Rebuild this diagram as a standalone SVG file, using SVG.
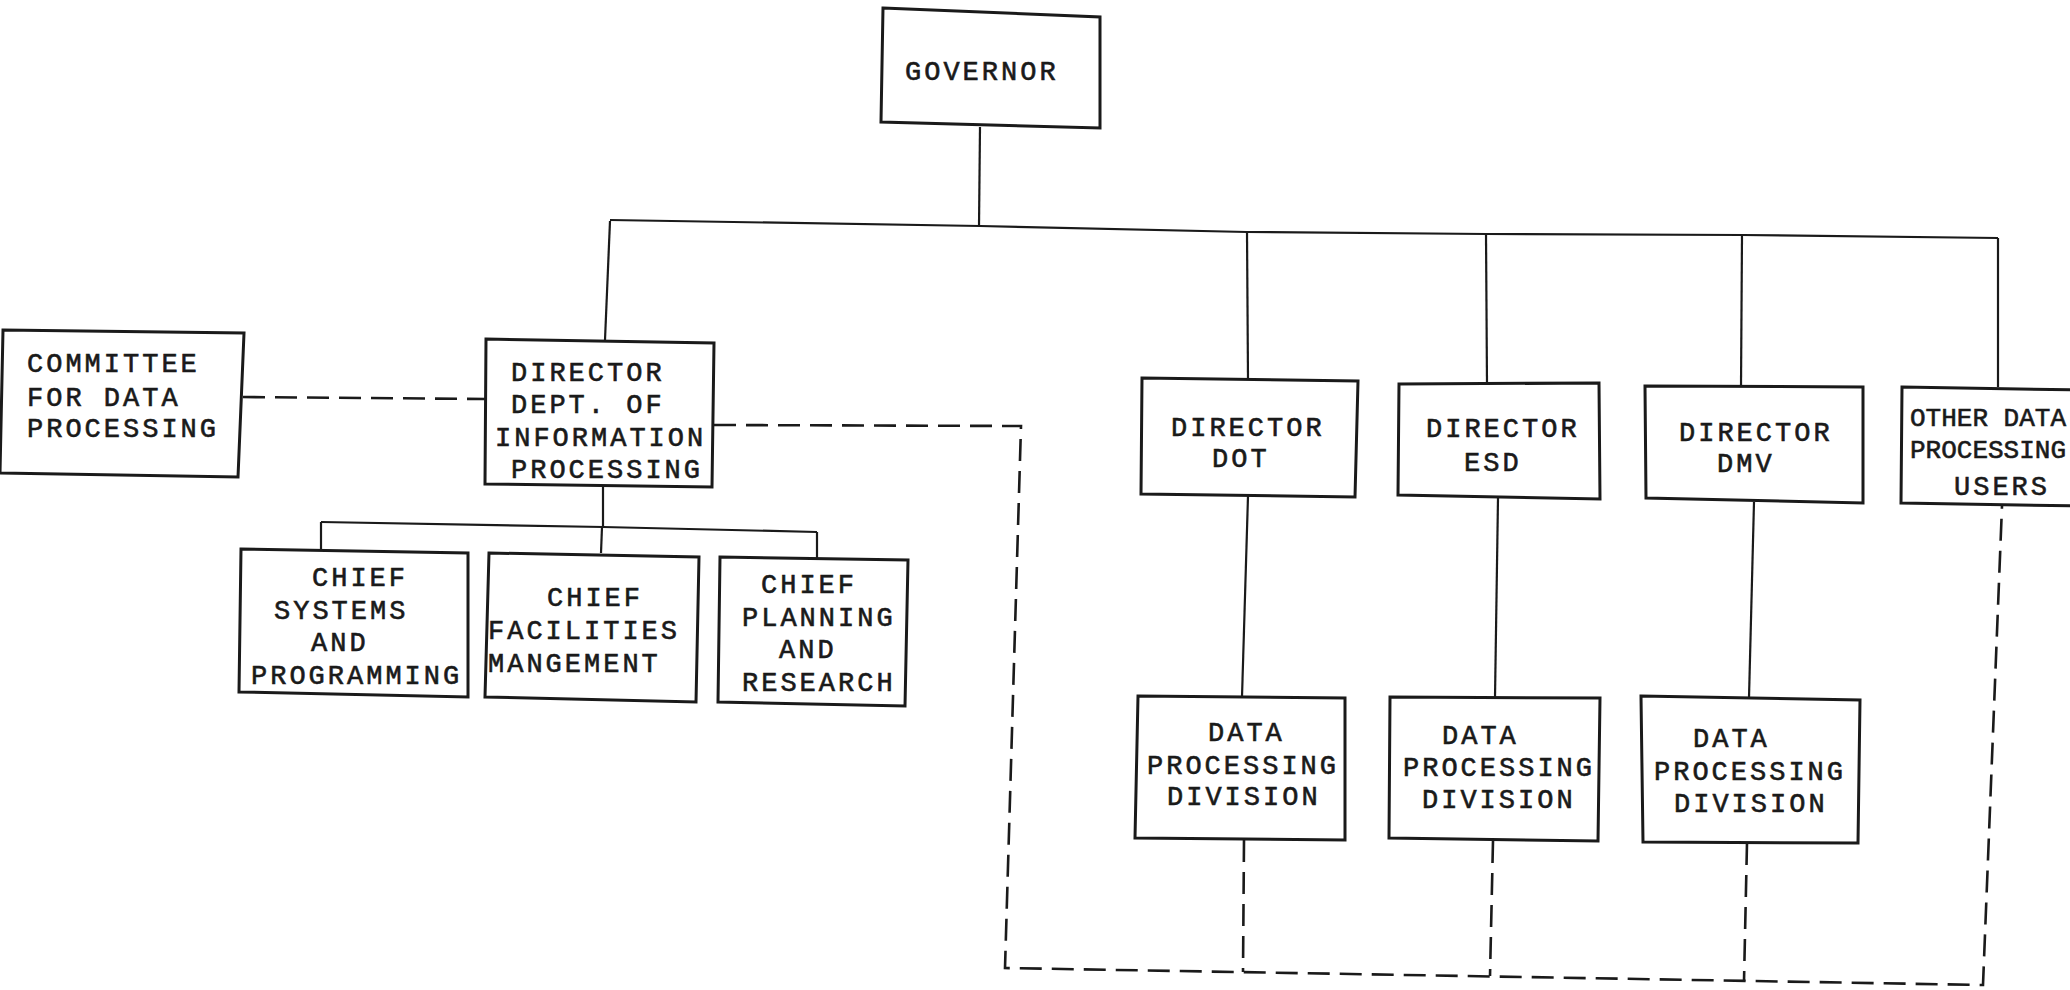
<svg xmlns="http://www.w3.org/2000/svg" width="2070" height="990" viewBox="0 0 2070 990">
<style>
.box{fill:#fff;stroke:#1a1a1a;stroke-width:3;stroke-linejoin:miter}
.t{font-family:"Liberation Mono","DejaVu Sans Mono",monospace;font-size:27px;letter-spacing:3px;fill:#1a1a1a;stroke:#1a1a1a;stroke-width:0.6}
.tn{letter-spacing:0px;font-size:26px}
.ln{fill:none;stroke:#1a1a1a;stroke-width:2.2}
.dash{fill:none;stroke:#1a1a1a;stroke-width:2.6;stroke-dasharray:22 10}
</style>
<rect width="2070" height="990" fill="#fff"/>
<g id="connectors">
<line class="ln" x1="980" y1="127" x2="979" y2="226"/>
<polyline class="ln" points="610,220 980,226 1247,232 1486,234 1742,235 1998,238"/>
<line class="ln" x1="610" y1="221" x2="605" y2="340"/>
<line class="ln" x1="1247" y1="232" x2="1248" y2="379"/>
<line class="ln" x1="1486" y1="234" x2="1487" y2="384"/>
<line class="ln" x1="1742" y1="235" x2="1741" y2="386"/>
<line class="ln" x1="1998" y1="238" x2="1998" y2="387"/>
<line class="ln" x1="603" y1="486" x2="603" y2="527"/>
<polyline class="ln" points="321,522 603,527 817,532"/>
<line class="ln" x1="321" y1="522" x2="321" y2="550"/>
<line class="ln" x1="602" y1="527" x2="601" y2="553"/>
<line class="ln" x1="817" y1="532" x2="817" y2="558"/>
<line class="ln" x1="1248" y1="496" x2="1242" y2="697"/>
<line class="ln" x1="1498" y1="498" x2="1495" y2="698"/>
<line class="ln" x1="1754" y1="502" x2="1749" y2="698"/>
<line class="dash" x1="243" y1="397" x2="486" y2="399"/>
<polyline class="dash" points="714,425 1021,426 1005,968 1983,985 2002,506"/>
<line class="dash" x1="1244" y1="840" x2="1243" y2="972"/>
<line class="dash" x1="1493" y1="841" x2="1490" y2="976"/>
<line class="dash" x1="1747" y1="843" x2="1744" y2="981"/>
</g>
<g id="governor">
<polygon class="box" points="883,8 1100,17 1100,128 881,122"/>
<text class="t" x="905" y="80">GOVERNOR</text>
</g>
<g id="committee">
<polygon class="box" points="3,330 244,333 238,477 0,473"/>
<text class="t" x="27" y="372">COMMITTEE</text>
<text class="t" x="27" y="406">FOR DATA</text>
<text class="t" x="27" y="437">PROCESSING</text>
</g>
<g id="director-dip">
<polygon class="box" points="486,339 714,343 712,487 485,484"/>
<text class="t" x="511" y="381">DIRECTOR</text>
<text class="t" x="511" y="413">DEPT. OF</text>
<text class="t" x="495" y="446">INFORMATION</text>
<text class="t" x="511" y="478">PROCESSING</text>
</g>
<g id="chief-systems">
<polygon class="box" points="241,549 468,553 468,697 239,692"/>
<text class="t" x="312" y="586">CHIEF</text>
<text class="t" x="274" y="619">SYSTEMS</text>
<text class="t" x="311" y="651">AND</text>
<text class="t" x="251" y="684">PROGRAMMING</text>
</g>
<g id="chief-facilities">
<polygon class="box" points="489,553 699,557 696,702 485,697"/>
<text class="t" x="547" y="606">CHIEF</text>
<text class="t" x="488" y="639">FACILITIES</text>
<text class="t" x="488" y="672">MANGEMENT</text>
</g>
<g id="chief-planning">
<polygon class="box" points="720,557 908,560 905,706 718,702"/>
<text class="t" x="761" y="593">CHIEF</text>
<text class="t" x="742" y="626">PLANNING</text>
<text class="t" x="779" y="658">AND</text>
<text class="t" x="742" y="691">RESEARCH</text>
</g>
<g id="director-dot">
<polygon class="box" points="1142,378 1358,381 1355,497 1141,494"/>
<text class="t" x="1171" y="436">DIRECTOR</text>
<text class="t" x="1212" y="467">DOT</text>
</g>
<g id="director-esd">
<polygon class="box" points="1399,384 1599,383 1600,499 1398,495"/>
<text class="t" x="1426" y="437">DIRECTOR</text>
<text class="t" x="1464" y="471">ESD</text>
</g>
<g id="director-dmv">
<polygon class="box" points="1645,386 1863,387 1863,503 1646,498"/>
<text class="t" x="1679" y="441">DIRECTOR</text>
<text class="t" x="1717" y="472">DMV</text>
</g>
<g id="other-users">
<polygon class="box" points="1902,387 2080,390 2080,506 1901,503"/>
<text class="t tn" x="1910" y="426">OTHER DATA</text>
<text class="t tn" x="1910" y="458">PROCESSING</text>
<text class="t" x="1954" y="495">USERS</text>
</g>
<g id="dp-dot">
<polygon class="box" points="1138,696 1345,698 1345,840 1135,838"/>
<text class="t" x="1208" y="741">DATA</text>
<text class="t" x="1147" y="774">PROCESSING</text>
<text class="t" x="1167" y="805">DIVISION</text>
</g>
<g id="dp-esd">
<polygon class="box" points="1390,697 1600,698 1598,841 1389,838"/>
<text class="t" x="1442" y="744">DATA</text>
<text class="t" x="1403" y="776">PROCESSING</text>
<text class="t" x="1422" y="808">DIVISION</text>
</g>
<g id="dp-dmv">
<polygon class="box" points="1641,696 1860,700 1858,843 1643,842"/>
<text class="t" x="1693" y="747">DATA</text>
<text class="t" x="1654" y="780">PROCESSING</text>
<text class="t" x="1674" y="812">DIVISION</text>
</g>
</svg>
